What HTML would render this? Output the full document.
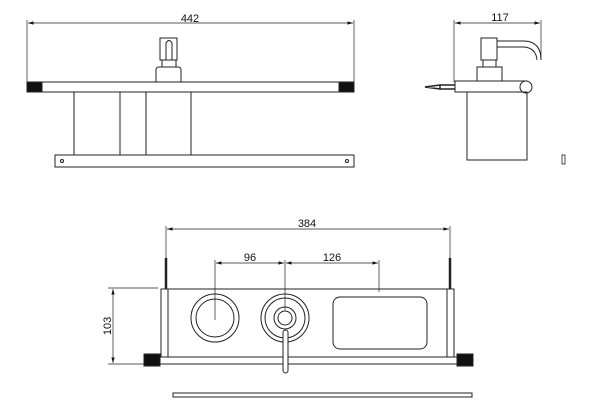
<!DOCTYPE html>
<html><head><style>body{margin:0;background:#fff}svg{display:block}text{font-family:"Liberation Sans",sans-serif;font-size:11px;fill:#111;stroke:none}</style></head><body>
<svg width="600" height="409" viewBox="0 0 600 409" fill="none" stroke="#222" stroke-width="1">
<defs><marker id="a" viewBox="0 0 10 6" refX="10" refY="3" markerWidth="8" markerHeight="5" orient="auto-start-reverse"><path d="M0,0L10,3L0,6z" fill="#111" stroke="none"/></marker></defs>
<!-- top left -->
<line x1="27" y1="20" x2="27" y2="82" stroke-width="0.7"/><line x1="354" y1="20" x2="354" y2="82" stroke-width="0.7"/>
<line x1="28" y1="23" x2="353" y2="23" marker-start="url(#a)" marker-end="url(#a)" stroke-width="0.7"/>
<text x="190" y="22" text-anchor="middle">442</text>
<rect x="27" y="82" width="327" height="10"/>
<rect x="27" y="82" width="15" height="10" fill="#111"/><rect x="339" y="82" width="15" height="10" fill="#111"/>
<path d="M74 92V155M120 92V155M146 92V155M191 92V155"/>
<rect x="55" y="155" width="299" height="12"/>
<circle cx="62" cy="161" r="1.5"/><circle cx="347" cy="161" r="1.5"/>
<path d="M156 82V70Q156 67 159 67H178Q181 67 181 70V82"/>
<rect x="162" y="60" width="14" height="7"/><rect x="160" y="38" width="17" height="22"/>
<path d="M166 60V43Q169 38 172 43V60"/>
<!-- top right -->
<line x1="454" y1="20" x2="454" y2="82" stroke-width="0.7"/><line x1="541" y1="20" x2="541" y2="60" stroke-width="0.7"/>
<line x1="455" y1="23" x2="540" y2="23" marker-start="url(#a)" marker-end="url(#a)" stroke-width="0.7"/>
<text x="500" y="21" text-anchor="middle">117</text>
<rect x="455" y="81" width="72" height="11"/><circle cx="526" cy="87" r="6" fill="#fff"/>
<rect x="467" y="92" width="60" height="68"/>
<rect x="477" y="67" width="25" height="14"/><rect x="483" y="60" width="13" height="7"/><rect x="481" y="38" width="16" height="22"/>
<path d="M497 41H525Q541 42 541 60M497 47H524Q536 48 537 60"/>
<path d="M425 87L440 85V89Z M440 85H455M440 89H455" stroke-width="1.5"/>
<rect x="562" y="155" width="3" height="9" stroke-width="0.8"/>
<!-- bottom -->
<line x1="166" y1="226" x2="166" y2="260" stroke-width="0.7"/><line x1="450" y1="226" x2="450" y2="260" stroke-width="0.7"/>
<line x1="167" y1="229" x2="449" y2="229" marker-start="url(#a)" marker-end="url(#a)" stroke-width="0.7"/>
<text x="307" y="227" text-anchor="middle">384</text>
<line x1="216" y1="263" x2="284" y2="263" marker-start="url(#a)" marker-end="url(#a)" stroke-width="0.7"/>
<line x1="286" y1="263" x2="378" y2="263" marker-start="url(#a)" marker-end="url(#a)" stroke-width="0.7"/>
<text x="250" y="261" text-anchor="middle">96</text><text x="332" y="261" text-anchor="middle">126</text>
<path d="M215 260V320M285 260V310M379 260V292" stroke-width="0.7"/>
<line x1="113" y1="289" x2="113" y2="363" marker-start="url(#a)" marker-end="url(#a)" stroke-width="0.7"/>
<path d="M108 288H158M108 364H145" stroke-width="0.7"/>
<text x="0" y="0" transform="translate(111 326) rotate(-90)" text-anchor="middle">103</text>
<rect x="161" y="289" width="293" height="68"/>
<path d="M168 289V357M447 289V357"/>
<rect x="150" y="357" width="320" height="7"/>
<rect x="144" y="354" width="16" height="12" fill="#111"/><rect x="457" y="354" width="16" height="12" fill="#111"/>
<path d="M166 258V289M450 258V289" stroke-width="2.5"/>
<circle cx="215" cy="318" r="24"/><circle cx="215" cy="318" r="19"/>
<circle cx="285" cy="318" r="24"/><circle cx="285" cy="318" r="20"/><circle cx="285" cy="318" r="11"/><circle cx="285" cy="318" r="7"/>
<rect x="283" y="330" width="5" height="43" rx="2.5" fill="#fff"/>
<rect x="333" y="297" width="94" height="52" rx="7"/>
<rect x="173" y="393" width="299" height="4"/>
</svg>
</body></html>
